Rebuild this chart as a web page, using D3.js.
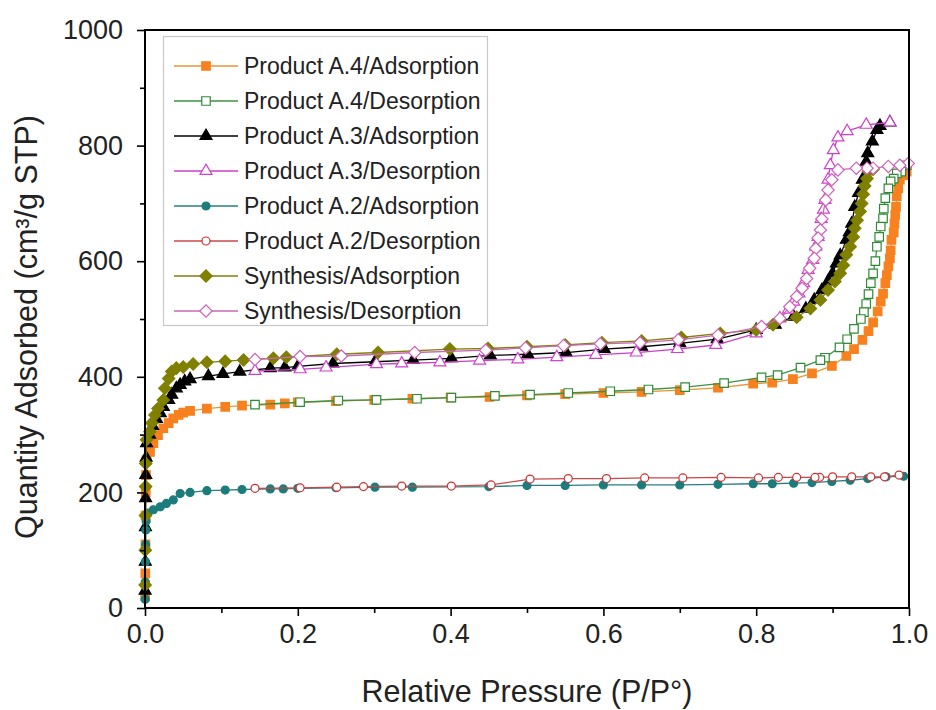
<!DOCTYPE html>
<html><head><meta charset="utf-8">
<script src="https://cdn.jsdelivr.net/npm/d3@7"></script>
<style>
html,body{margin:0;padding:0;background:#fff;}
svg{display:block;font-family:"Liberation Sans",Arial,sans-serif;}
</style></head>
<body>
<svg id="chart" width="936" height="710"></svg>
<script>
// ---------- DATA ----------
const xTicks = [0, 0.2, 0.4, 0.6, 0.8, 1.0];
const xMinorTicks = [0.1, 0.3, 0.5, 0.7, 0.9];
const yTicks = [0, 200, 400, 600, 800, 1000];
const yMinorTicks = [100, 300, 500, 700, 900];

const seriesNames = [
  "Product A.4/Adsorption", "Product A.4/Desorption",
  "Product A.3/Adsorption", "Product A.3/Desorption",
  "Product A.2/Adsorption", "Product A.2/Desorption",
  "Synthesis/Adsorption", "Synthesis/Desorption"
];

const a4Ads = [[0.0002,20],[0.0004,60],[0.0006,110],[0.0008,160],[0.001,200],[0.0013,230],[0.002,256],[0.0065,270],[0.011,285],[0.017,299],[0.024,311],[0.031,320],[0.037,328],[0.044,334],[0.05,338],[0.059,341],[0.081,345],[0.105,348],[0.127,350],[0.164,352],[0.183,354],[0.2,356],[0.25,358],[0.3,360],[0.35,362],[0.4,364],[0.451,365],[0.5,368],[0.55,370],[0.6,372],[0.65,374],[0.7,377],[0.75,381],[0.796,388],[0.821,390],[0.848,396],[0.873,406],[0.899,419],[0.918,436],[0.928,448],[0.939,464],[0.947,479],[0.953,494],[0.959,513],[0.963,530],[0.966,544],[0.969,562],[0.971,576],[0.973,591],[0.975,605],[0.976,619],[0.977,637],[0.98,650],[0.981,665],[0.982,680],[0.983,694],[0.984,712],[0.986,726],[0.988,741],[0.993,749],[0.997,755]];
const a4Des = [[0.997,766],[0.99,755],[0.984,752],[0.98,743],[0.976,738],[0.973,726],[0.969,709],[0.967,691],[0.966,674],[0.963,660],[0.961,642],[0.958,625],[0.956,600],[0.953,579],[0.95,562],[0.947,543],[0.944,526],[0.941,512],[0.937,500],[0.928,483],[0.919,465],[0.909,451],[0.89,433],[0.884,429],[0.858,416],[0.828,403],[0.807,399],[0.758,389],[0.707,382],[0.659,378],[0.609,375],[0.554,372],[0.504,369],[0.458,367],[0.401,364],[0.356,362],[0.303,360],[0.253,359],[0.203,356],[0.144,352]];
const a3Ads = [[0.0002,30],[0.0004,80],[0.0006,140],[0.0008,190],[0.001,230],[0.0015,260],[0.002,285],[0.006,300],[0.01,315],[0.015,327],[0.02,337],[0.024,348],[0.031,360],[0.035,369],[0.041,380],[0.046,386],[0.052,392],[0.059,396],[0.083,401],[0.102,405],[0.124,409],[0.164,415],[0.183,416],[0.2,418],[0.246,423],[0.301,426],[0.351,429],[0.401,432],[0.452,437],[0.501,439],[0.551,442],[0.601,448],[0.65,452],[0.7,458],[0.749,465],[0.8,481],[0.825,490],[0.849,504],[0.865,518],[0.876,533],[0.886,550],[0.894,565],[0.9,579],[0.905,596],[0.91,610],[0.918,637],[0.922,650],[0.925,665],[0.929,694],[0.934,718],[0.939,741],[0.944,772],[0.946,787],[0.952,807],[0.958,827],[0.962,834],[0.975,840]];
const a3Des = [[0.975,840],[0.944,836],[0.919,825],[0.907,814],[0.901,792],[0.897,766],[0.894,741],[0.89,706],[0.888,689],[0.885,673],[0.881,642],[0.878,625],[0.874,602],[0.868,585],[0.862,562],[0.856,544],[0.849,530],[0.842,516],[0.831,501],[0.8,475],[0.747,455],[0.697,448],[0.643,442],[0.59,438],[0.539,434],[0.488,430],[0.438,428],[0.386,425],[0.336,423],[0.303,422],[0.237,416],[0.203,413],[0.144,410]];
const a2Ads = [[0.0002,15],[0.0004,45],[0.0006,80],[0.0008,110],[0.001,135],[0.0015,150],[0.004,164],[0.011,170],[0.02,175],[0.028,181],[0.037,187],[0.046,198],[0.059,200],[0.081,203],[0.105,204],[0.127,205],[0.164,206],[0.181,206],[0.2,207],[0.25,208],[0.301,209],[0.35,209],[0.45,210],[0.5,212],[0.55,212],[0.6,213],[0.65,213],[0.7,213],[0.75,214],[0.796,215],[0.821,215],[0.849,216],[0.873,217],[0.899,219],[0.923,221],[0.946,224],[0.97,227],[0.993,228]];
const a2Des = [[0.987,230],[0.968,227],[0.95,227],[0.925,227],[0.9,227],[0.883,226],[0.877,226],[0.853,226],[0.829,226],[0.803,225],[0.754,226],[0.704,225],[0.654,225],[0.604,224],[0.554,224],[0.504,223],[0.453,213],[0.401,211],[0.336,211],[0.286,210],[0.251,209],[0.203,208],[0.144,207]];
const synAds = [[0.0002,40],[0.0004,100],[0.0006,160],[0.0008,210],[0.001,250],[0.002,291],[0.0065,305],[0.009,320],[0.013,334],[0.017,345],[0.024,360],[0.026,380],[0.031,397],[0.035,409],[0.041,415],[0.05,417],[0.063,422],[0.081,425],[0.105,427],[0.129,429],[0.168,432],[0.185,434],[0.251,439],[0.305,442],[0.399,448],[0.449,449],[0.5,452],[0.55,455],[0.598,459],[0.65,462],[0.702,468],[0.753,475],[0.8,481],[0.822,490],[0.853,503],[0.871,518],[0.884,533],[0.894,550],[0.903,565],[0.91,579],[0.914,593],[0.918,611],[0.923,625],[0.927,642],[0.929,657],[0.932,671],[0.936,686],[0.938,700],[0.94,716],[0.942,730],[0.945,743],[0.947,755],[0.953,759]];
const synDes = [[0.999,769],[0.988,766],[0.973,764],[0.953,761],[0.945,761],[0.931,761],[0.907,758],[0.899,741],[0.894,723],[0.891,706],[0.886,673],[0.884,654],[0.881,640],[0.878,622],[0.876,605],[0.87,588],[0.866,570],[0.86,553],[0.853,539],[0.844,521],[0.831,501],[0.807,487],[0.75,472],[0.698,464],[0.648,459],[0.596,457],[0.548,454],[0.498,450],[0.446,446],[0.353,442],[0.257,436],[0.203,435],[0.144,430]];

// ---------- STYLE ----------
const seriesData = [a4Ads, a4Des, a3Ads, a3Des, a2Ads, a2Des, synAds, synDes];
const styles = [
  {line:"#E8953A", stroke:"#F7811F", fill:"#F7811F", sym:"square"},
  {line:"#3E9140", stroke:"#2E8B34", fill:"#fff", sym:"square"},
  {line:"#000000", stroke:"#000", fill:"#000", sym:"triangle"},
  {line:"#C840C8", stroke:"#D040D0", fill:"#fff", sym:"triangle"},
  {line:"#2B7F7F", stroke:"#1C7C7C", fill:"#1C7C7C", sym:"circle"},
  {line:"#C84848", stroke:"#D03030", fill:"#fff", sym:"circle"},
  {line:"#808010", stroke:"#7F7F00", fill:"#7F7F00", sym:"diamond"},
  {line:"#C868B0", stroke:"#D060B8", fill:"#fff", sym:"diamond"}
];

const svg = d3.select("#chart");
const L = 145, R = 909, T = 30, B = 608;
const x = d3.scaleLinear().domain([0, 1]).range([L, R]);
const y = d3.scaleLinear().domain([0, 1000]).range([B, T]);

function symbolPath(kind) {
  if (kind === "square") return d3.symbol(d3.symbolSquare, 72)();
  if (kind === "triangle") return d3.symbol(d3.symbolTriangle, 62)();
  if (kind === "circle") return d3.symbol(d3.symbolCircle, 50)();
  return d3.symbol(d3.symbolSquare, 76)();
}
function symbolRot(kind) { return kind === "diamond" ? " rotate(45)" : ""; }

// series
const line = d3.line().x(d => x(d[0])).y(d => y(d[1]));
seriesData.forEach((data, i) => {
  const s = styles[i];
  const g = svg.append("g");
  g.append("path").datum(data).attr("d", line)
    .attr("fill", "none").attr("stroke", s.line).attr("stroke-width", 1.3);
  g.selectAll("path.m").data(data).enter().append("path").attr("class", "m")
    .attr("d", symbolPath(s.sym))
    .attr("transform", d => `translate(${x(d[0])},${y(d[1])})${symbolRot(s.sym)}`)
    .attr("fill", s.fill).attr("stroke", s.stroke).attr("stroke-width", 1.2);
});

// frame
svg.append("rect").attr("x", L).attr("y", T).attr("width", R - L).attr("height", B - T)
  .attr("fill", "none").attr("stroke", "#000").attr("stroke-width", 2);

// axes
const xAxis = svg.append("g").attr("transform", `translate(0,${B})`)
  .call(d3.axisBottom(x).tickValues(xTicks).tickSize(8).tickPadding(8).tickFormat(d3.format(".1f")));
const xMinor = svg.append("g").attr("transform", `translate(0,${B})`)
  .call(d3.axisBottom(x).tickValues(xMinorTicks).tickSize(5).tickFormat(""));
const yAxis = svg.append("g").attr("transform", `translate(${L},0)`)
  .call(d3.axisLeft(y).tickValues(yTicks).tickSize(8).tickPadding(14).tickFormat(d3.format("d")));
const yMinor = svg.append("g").attr("transform", `translate(${L},0)`)
  .call(d3.axisLeft(y).tickValues(yMinorTicks).tickSize(5).tickFormat(""));
[xAxis, xMinor, yAxis, yMinor].forEach(a => {
  a.select(".domain").remove();
  a.selectAll("line").attr("stroke", "#000").attr("stroke-width", 1.6);
  a.selectAll("text").attr("font-size", 27).attr("fill", "#222")
    .attr("font-family", "'Liberation Sans', Arial, sans-serif");
});

// axis titles
svg.append("text").attr("x", 527).attr("y", 702).attr("text-anchor", "middle")
  .attr("font-size", 30.5).attr("fill", "#222").text("Relative Pressure (P/P°)");
svg.append("text").attr("transform", "translate(37,327) rotate(-90)").attr("text-anchor", "middle")
  .attr("font-size", 30.5).attr("fill", "#222").text("Quantity Adsorbed (cm³/g STP)");

// legend
const lg = svg.append("g");
lg.append("rect").attr("x", 163.5).attr("y", 36.5).attr("width", 324).attr("height", 289)
  .attr("fill", "#fff").attr("stroke", "#c8c8c8").attr("stroke-width", 1.2);
seriesNames.forEach((name, i) => {
  const s = styles[i];
  const cy = 66 + i * 35;
  lg.append("line").attr("x1", 174).attr("x2", 238).attr("y1", cy).attr("y2", cy)
    .attr("stroke", s.line).attr("stroke-width", 1.3);
  lg.append("path").attr("d", symbolPath(s.sym))
    .attr("transform", `translate(206,${cy})${symbolRot(s.sym)}`)
    .attr("fill", s.fill).attr("stroke", s.stroke).attr("stroke-width", 1.2);
  lg.append("text").attr("x", 244).attr("y", cy + 8).attr("font-size", 23).attr("fill", "#222").text(name);
});
</script>
</body></html>
